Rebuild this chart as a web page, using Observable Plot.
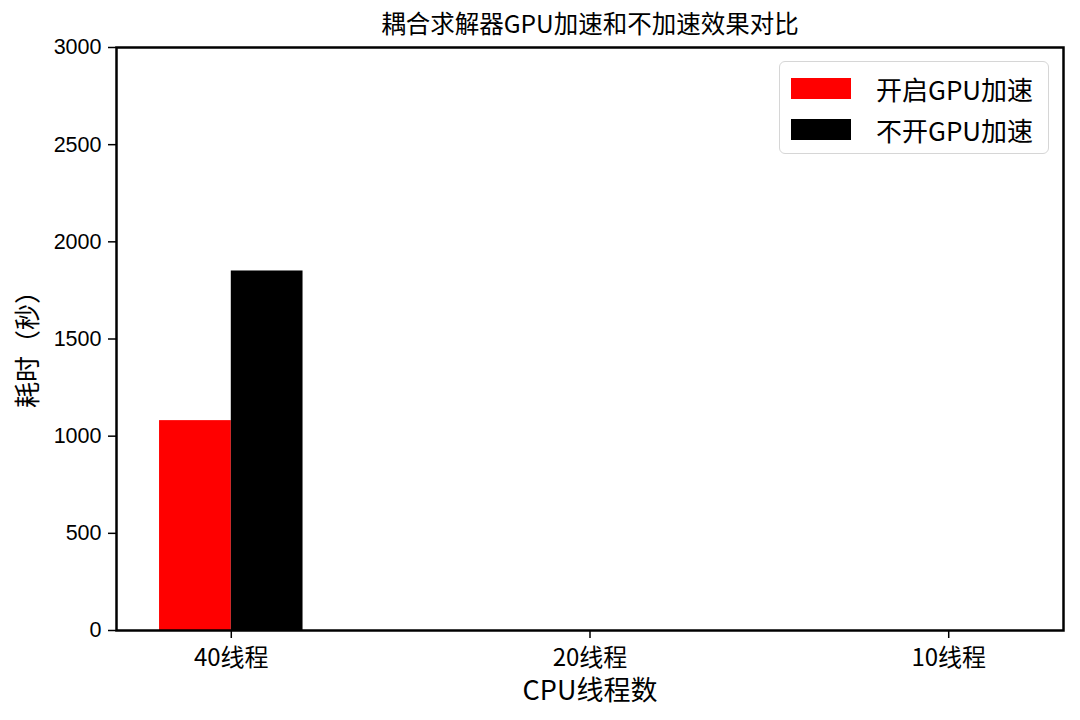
<!DOCTYPE html>
<html>
<head>
<meta charset="utf-8">
<script src="https://cdn.jsdelivr.net/npm/d3@7"></script>
<script src="https://cdn.jsdelivr.net/npm/@observablehq/plot@0.6"></script>
<style>
  html, body { margin: 0; padding: 0; background: #fff; }
  #wrap { position: relative; width: 1080px; height: 720px; }
  #legend {
    position: absolute; left: 779px; top: 61px; width: 268px; height: 91px;
    border: 1.5px solid #d6d6d6; border-radius: 6px; background: rgba(255,255,255,0.8);
    font-family: "Noto Sans CJK SC", sans-serif; font-size: 26px; color: #000;
  }
  .item { position: absolute; left: 11px; height: 21px; display: flex; align-items: center; }
  .sw { width: 60px; height: 21px; margin-right: 25px; }
  .lab { line-height: 1; white-space: nowrap; }
</style>
</head>
<body>
<div id="wrap"></div>
<script>
const categories = ["40线程", "20线程", "10线程"];
const seriesNames = ["开启GPU加速", "不开GPU加速"];
const seriesColors = ["#ff0000", "#000000"];
const gpuOn = [1080, 0, 0];
const gpuOff = [1850, 0, 0];
const yTicks = [0, 500, 1000, 1500, 2000, 2500, 3000];
const title = "耦合求解器GPU加速和不加速效果对比";
const xLabel = "CPU线程数";
const yLabel = "耗时（秒）";

const barWidth = 0.2;
const seriesValues = [gpuOn, gpuOff];
const rows = [];
seriesValues.forEach((vals, s) => {
  vals.forEach((v, i) => {
    const center = i + (s - 0.5) * barWidth;
    rows.push({i, series: seriesNames[s], value: v, x1: center - barWidth / 2, x2: center + barWidth / 2});
  });
});

const chart = Plot.plot({
  width: 1080,
  height: 720,
  marginLeft: 116,
  marginRight: 17,
  marginTop: 47,
  marginBottom: 90,
  style: {background: "#fff"},
  x: {domain: [-0.32, 2.32], axis: null},
  y: {domain: [0, 3000], axis: null},
  color: {domain: seriesNames, range: seriesColors},
  marks: [
    Plot.rectY(rows, {x1: "x1", x2: "x2", y1: 0, y2: "value", fill: "series"}),
    Plot.axisY({ticks: yTicks, tickSize: 8, tickPadding: 7, strokeWidth: 1.5, fontSize: 21.5,
      fontFamily: "Liberation Sans, Arial, sans-serif", label: null, tickFormat: d => String(d)}),
    Plot.axisX({ticks: [0, 1, 2], tickSize: 8, tickPadding: 10, strokeWidth: 1.5, fontSize: 24,
      fontFamily: "Noto Sans CJK SC, sans-serif", label: null, tickFormat: i => categories[i]}),
    Plot.frame({stroke: "#000", strokeWidth: 2.5}),
    Plot.text([title], {frameAnchor: "top", dy: -22, lineAnchor: "middle", fontSize: 24.5,
      fontFamily: "Noto Sans CJK SC, sans-serif", fill: "#000"}),
    Plot.text([xLabel], {frameAnchor: "bottom", dy: 61, lineAnchor: "middle", fontSize: 27,
      fontFamily: "Noto Sans CJK SC, sans-serif", fill: "#000"}),
    Plot.text([yLabel], {frameAnchor: "left", textAnchor: "middle", dx: -88, dy: 4, rotate: -90,
      lineAnchor: "middle", fontSize: 26, fontFamily: "Noto Sans CJK SC, sans-serif", fill: "#000"})
  ]
});

const wrap = document.getElementById("wrap");
wrap.appendChild(chart);

const legend = document.createElement("div");
legend.id = "legend";
seriesNames.forEach((name, k) => {
  const item = document.createElement("div");
  item.className = "item";
  item.style.top = (16 + k * 41) + "px";
  const sw = document.createElement("div");
  sw.className = "sw";
  sw.style.background = seriesColors[k];
  const lab = document.createElement("span");
  lab.className = "lab";
  lab.textContent = name;
  item.appendChild(sw);
  item.appendChild(lab);
  legend.appendChild(item);
});
wrap.appendChild(legend);
</script>
</body>
</html>
